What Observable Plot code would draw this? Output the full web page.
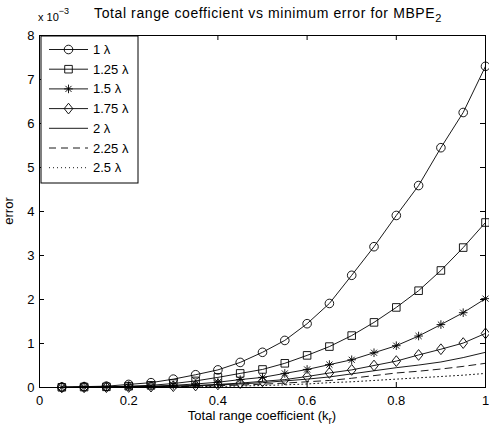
<!DOCTYPE html>
<html>
<head>
<meta charset="utf-8">
<script src="https://cdn.jsdelivr.net/npm/d3@7"></script>
<script src="https://cdn.jsdelivr.net/npm/@observablehq/plot@0.6"></script>
<style>
  body { margin: 0; background: #fff; }
  #chart { width: 489px; height: 426px; }
</style>
</head>
<body>
<div id="chart"></div>
<script>
// ---- data (error values in units of 1e-3) ----
const kr = [0.05, 0.10, 0.15, 0.20, 0.25, 0.30, 0.35, 0.40, 0.45, 0.50,
            0.55, 0.60, 0.65, 0.70, 0.75, 0.80, 0.85, 0.90, 0.95, 1.00];
const err1   = [0.01, 0.02, 0.03, 0.07, 0.11, 0.19, 0.29, 0.40, 0.57, 0.80,
                1.07, 1.45, 1.91, 2.55, 3.20, 3.91, 4.59, 5.45, 6.25, 7.30];
const err125 = [0.005, 0.01, 0.015, 0.03, 0.05, 0.09, 0.15, 0.23, 0.32, 0.41,
                0.55, 0.73, 0.93, 1.18, 1.48, 1.82, 2.20, 2.66, 3.18, 3.75];
const err15  = [0.003, 0.006, 0.01, 0.02, 0.03, 0.05, 0.08, 0.12, 0.18, 0.23,
                0.32, 0.41, 0.52, 0.63, 0.79, 0.95, 1.17, 1.43, 1.70, 2.02];
const err175 = [0.002, 0.004, 0.007, 0.012, 0.02, 0.03, 0.045, 0.07, 0.10, 0.14,
                0.18, 0.25, 0.33, 0.40, 0.50, 0.60, 0.74, 0.87, 1.01, 1.23];
const err2   = [0.002, 0.004, 0.008, 0.012, 0.02, 0.03, 0.04, 0.06, 0.08, 0.11,
                0.15, 0.19, 0.24, 0.31, 0.38, 0.45, 0.51, 0.58, 0.68, 0.80];
const err225 = [0.001, 0.003, 0.005, 0.008, 0.012, 0.018, 0.028, 0.04, 0.055, 0.075,
                0.10, 0.13, 0.16, 0.21, 0.27, 0.33, 0.37, 0.42, 0.48, 0.55];
const err25  = [0.001, 0.002, 0.003, 0.004, 0.007, 0.011, 0.017, 0.025, 0.034, 0.045,
                0.06, 0.08, 0.11, 0.13, 0.16, 0.19, 0.22, 0.25, 0.28, 0.32];
const seriesLabels = ["1 λ", "1.25 λ", "1.5 λ", "1.75 λ", "2 λ", "2.25 λ", "2.5 λ"];
const seriesValues = [err1, err125, err15, err175, err2, err225, err25];
const xTicks = [0, 0.2, 0.4, 0.6, 0.8, 1];
const xTickLabels = ["0", "0.2", "0.4", "0.6", "0.8", "1"];
const yTicks = [0, 1, 2, 3, 4, 5, 6, 7, 8];
const yTickLabels = ["0", "1", "2", "3", "4", "5", "6", "7", "8"];

// ---- styles ----
const symCircle = { draw(c, size) { const r = Math.sqrt(size / Math.PI); c.moveTo(r, 0); c.arc(0, 0, r, 0, 2 * Math.PI); } };
const symSquare = { draw(c, size) { const r = Math.sqrt(size / Math.PI) * 0.88; c.moveTo(-r, -r); c.lineTo(r, -r); c.lineTo(r, r); c.lineTo(-r, r); c.closePath(); } };
const symStar = { draw(c, size) { const r = Math.sqrt(size / Math.PI);
  for (const a of [0, 45, 90, 135]) { const t = a * Math.PI / 180, dx = r * Math.cos(t), dy = r * Math.sin(t); c.moveTo(-dx, -dy); c.lineTo(dx, dy); } } };
const symDiamond = { draw(c, size) { const r = Math.sqrt(size / Math.PI); const w = r * 1.0, h = r * 1.25;
  c.moveTo(0, -h); c.lineTo(w, 0); c.lineTo(0, h); c.lineTo(-w, 0); c.closePath(); } };
const seriesSymbols = [symCircle, symSquare, symStar, symDiamond, null, null, null];
const seriesDash = [null, null, null, null, null, "7,5", "1,3"];

const W = 489, H = 426, mL = 39, mR = 4, mT = 35, mB = 39;
const plotW = W - mL - mR, plotH = H - mT - mB, tickLen = 5;
const FONT = "'Liberation Sans', Arial, Helvetica, sans-serif";

const seriesMarks = seriesValues.flatMap((vals, i) => {
  const rows = kr.map((x, j) => ({ x, y: vals[j] }));
  const m = [Plot.line(rows, { x: "x", y: "y", stroke: "black", strokeWidth: 0.9, strokeDasharray: seriesDash[i] })];
  if (seriesSymbols[i]) m.push(Plot.dot(rows, { x: "x", y: "y", symbol: seriesSymbols[i], r: 4.3, stroke: "black", strokeWidth: 0.9, fill: "none" }));
  return m;
});

const svg = Plot.plot({
  width: W, height: H,
  marginLeft: mL, marginRight: mR, marginTop: mT, marginBottom: mB,
  style: { fontFamily: FONT, fontSize: "13px", color: "black", background: "white" },
  x: { domain: [0, 1] },
  y: { domain: [0, 8] },
  marks: [
    Plot.frame({ stroke: "black", strokeWidth: 1 }),
    Plot.tickX(xTicks, { x: d => d, insetTop: plotH - tickLen, stroke: "black" }),
    Plot.tickX(xTicks, { x: d => d, insetBottom: plotH - tickLen, stroke: "black" }),
    Plot.tickY(yTicks, { y: d => d, insetRight: plotW - tickLen, stroke: "black" }),
    Plot.tickY(yTicks, { y: d => d, insetLeft: plotW - tickLen, stroke: "black" }),
    Plot.axisX(xTicks, { tickSize: 0, tickPadding: 8, tickFormat: (d, i) => xTickLabels[i], fontSize: 13, label: null }),
    Plot.axisY(yTicks, { tickSize: 0, tickPadding: 5, tickFormat: (d, i) => yTickLabels[i], fontSize: 13, label: null }),
    ...seriesMarks
  ]
});
document.getElementById("chart").appendChild(svg);

// ---- texts and legend ----
const s = d3.select(svg);
const cx = mL + plotW / 2;
const title = s.append("text").attr("x", cx + 6).attr("y", 18).attr("text-anchor", "middle")
  .style("font-size", "14px").style("letter-spacing", "0.6px").attr("fill", "black");
title.append("tspan").text("Total range coefficient vs minimum error for MBPE");
title.append("tspan").attr("dy", 4).style("font-size", "11px").text("2");

const mult = s.append("text").attr("x", 38).attr("y", 21).attr("text-anchor", "start")
  .style("font-size", "11px").attr("fill", "black");
mult.append("tspan").text("x 10");
mult.append("tspan").attr("dy", -7).style("font-size", "9px").text("−3");

s.append("text").attr("transform", `translate(13,${mT + plotH / 2}) rotate(-90)`)
  .attr("text-anchor", "middle").style("font-size", "13px").attr("fill", "black").text("error");

const xl = s.append("text").attr("x", cx).attr("y", 420).attr("text-anchor", "middle")
  .style("font-size", "13px").attr("fill", "black");
xl.append("tspan").text("Total range coefficient (k");
xl.append("tspan").attr("dy", 4).style("font-size", "10px").text("r");
xl.append("tspan").attr("dy", -4).text(")");

const lg = s.append("g");
lg.append("rect").attr("x", 41).attr("y", 36).attr("width", 97).attr("height", 147)
  .attr("fill", "white").attr("stroke", "black").attr("stroke-width", 1);
seriesLabels.forEach((lab, i) => {
  const y = 49.5 + i * 19.7;
  lg.append("line").attr("x1", 49).attr("x2", 88).attr("y1", y).attr("y2", y)
    .attr("stroke", "black").attr("stroke-width", 0.9).attr("stroke-dasharray", seriesDash[i]);
  if (seriesSymbols[i]) {
    const p = d3.path(); seriesSymbols[i].draw(p, Math.PI * 4.3 * 4.3);
    lg.append("path").attr("d", p.toString()).attr("transform", `translate(68.5,${y})`)
      .attr("fill", "none").attr("stroke", "black").attr("stroke-width", 0.9);
  }
  lg.append("text").attr("x", 93).attr("y", y + 4.5).attr("text-anchor", "start")
    .style("font-size", "13px").attr("fill", "black").text(lab);
});
</script>
</body>
</html>
